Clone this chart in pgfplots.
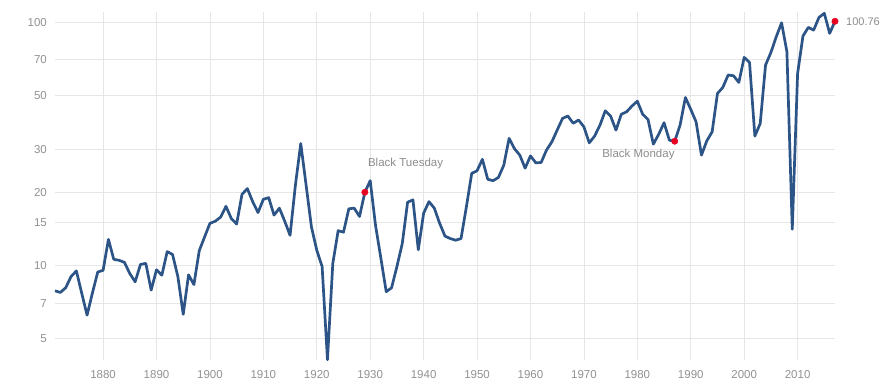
\documentclass[border=0pt]{standalone}
\usepackage{pgfplots}
\pgfplotsset{compat=1.18}
\usepackage{fontspec}
\setmainfont{Liberation Sans}
\definecolor{linecol}{RGB}{44,84,134}
\definecolor{dotred}{RGB}{232,0,32}
\definecolor{gridgray}{RGB}{230,230,230}
\definecolor{tickgray}{RGB}{145,145,145}
\definecolor{anngray}{RGB}{140,140,140}
\begin{document}
\begin{tikzpicture}
\path[use as bounding box] (0,0) rectangle (890bp,384bp);
\begin{axis}[
  at={(55bp,24bp)}, anchor=south west,
  width=780bp, height=348bp, scale only axis,
  xmin=1871, xmax=2017,
  ymode=log, ymin=4.09, ymax=110,
  clip=false,
  axis line style={draw=none},
  tick style={draw=none},
  grid=major,
  major grid style={draw=gridgray, line width=0.8bp},
  xtick={1880,1890,1900,1910,1920,1930,1940,1950,1960,1970,1980,1990,2000,2010},
  xticklabels={1880,1890,1900,1910,1920,1930,1940,1950,1960,1970,1980,1990,2000,2010},
  ytick={5,7,10,15,20,30,50,70,100},
  yticklabels={5,7,10,15,20,30,50,70,100},
  xticklabel style={font=\fontsize{11.5bp}{13bp}\selectfont, text=tickgray, inner sep=0pt, anchor=north, yshift=-10bp},
  yticklabel style={font=\fontsize{11.5bp}{13bp}\selectfont, text=tickgray, inner sep=0pt, anchor=east, xshift=-8bp},
]
\addplot[color=linecol, line width=2.7bp, line join=round, mark=none] coordinates {
(1871,7.87)(1872,7.75)(1873,8.1)(1874,9.0)(1875,9.5)(1876,7.7)(1877,6.25)(1878,7.7)(1879,9.4)(1880,9.55)
(1881,12.8)(1882,10.6)(1883,10.5)(1884,10.3)(1885,9.27)(1886,8.57)(1887,10.1)(1888,10.2)(1889,7.92)(1890,9.6)
(1891,9.12)(1892,11.4)(1893,11.1)(1894,9.0)(1895,6.3)(1896,9.15)(1897,8.35)(1898,11.5)(1899,13.1)(1900,14.9)
(1901,15.2)(1902,15.8)(1903,17.5)(1904,15.6)(1905,14.8)(1906,19.6)(1907,20.7)(1908,18.3)(1909,16.5)(1910,18.7)
(1911,19.0)(1912,16.1)(1913,17.2)(1914,15.2)(1915,13.3)(1916,21.4)(1917,31.7)(1918,21.4)(1919,14.4)(1920,11.55)
(1921,9.9)(1922,4.1)(1923,10.2)(1924,13.9)(1925,13.7)(1926,17.1)(1927,17.2)(1928,15.9)(1929,20.0)(1930,22.3)
(1931,14.6)(1932,10.7)(1933,7.8)(1934,8.1)(1935,9.9)(1936,12.3)(1937,18.2)(1938,18.6)(1939,11.6)(1940,16.4)
(1941,18.3)(1942,17.2)(1943,14.9)(1944,13.2)(1945,12.9)(1946,12.7)(1947,12.9)(1948,17.4)(1949,23.9)(1950,24.5)
(1951,27.3)(1952,22.6)(1953,22.3)(1954,23.0)(1955,25.8)(1956,33.3)(1957,30.2)(1958,28.4)(1959,25.1)(1960,28.2)
(1961,26.4)(1962,26.5)(1963,29.8)(1964,32.2)(1965,36.0)(1966,40.2)(1967,41.1)(1968,38.4)(1969,39.6)(1970,37.1)
(1971,31.9)(1972,34.0)(1973,37.7)(1974,43.2)(1975,41.1)(1976,36.0)(1977,41.8)(1978,42.8)(1979,45.2)(1980,47.3)
(1981,41.8)(1982,39.8)(1983,31.5)(1984,34.6)(1985,38.6)(1986,32.7)(1987,32.4)(1988,37.7)(1989,49.0)(1990,43.8)
(1991,38.9)(1992,28.4)(1993,32.5)(1994,35.4)(1995,50.9)(1996,53.9)(1997,60.6)(1998,60.2)(1999,56.5)(2000,71.6)
(2001,68.3)(2002,34.0)(2003,38.3)(2004,66.6)(2005,75.0)(2006,87.0)(2007,99.3)(2008,75.5)(2009,14.1)(2010,61.5)
(2011,87.6)(2012,95.1)(2013,92.7)(2014,104.5)(2015,108.6)(2016,89.9)(2017,100.76)
};
\addplot[only marks, mark=*, mark size=3.2bp, color=dotred, mark options={draw=dotred, fill=dotred}] coordinates {
(1929,20.0)(1987,32.4)(2017,100.76)
};
\node[font=\fontsize{11.5bp}{13bp}\selectfont, text=anngray, anchor=west, inner sep=0pt, xshift=3bp, yshift=29bp] at (axis cs:1929,20.0) {Black Tuesday};
\node[font=\fontsize{11.5bp}{13bp}\selectfont, text=anngray, anchor=east, inner sep=0pt, xshift=0bp, yshift=-13bp] at (axis cs:1987,32.4) {Black Monday};
\node[font=\fontsize{11bp}{13bp}\selectfont, text=anngray, anchor=west, inner sep=0pt, xshift=11bp] at (axis cs:2017,100.76) {100.76};
\end{axis}
\end{tikzpicture}
\end{document}
